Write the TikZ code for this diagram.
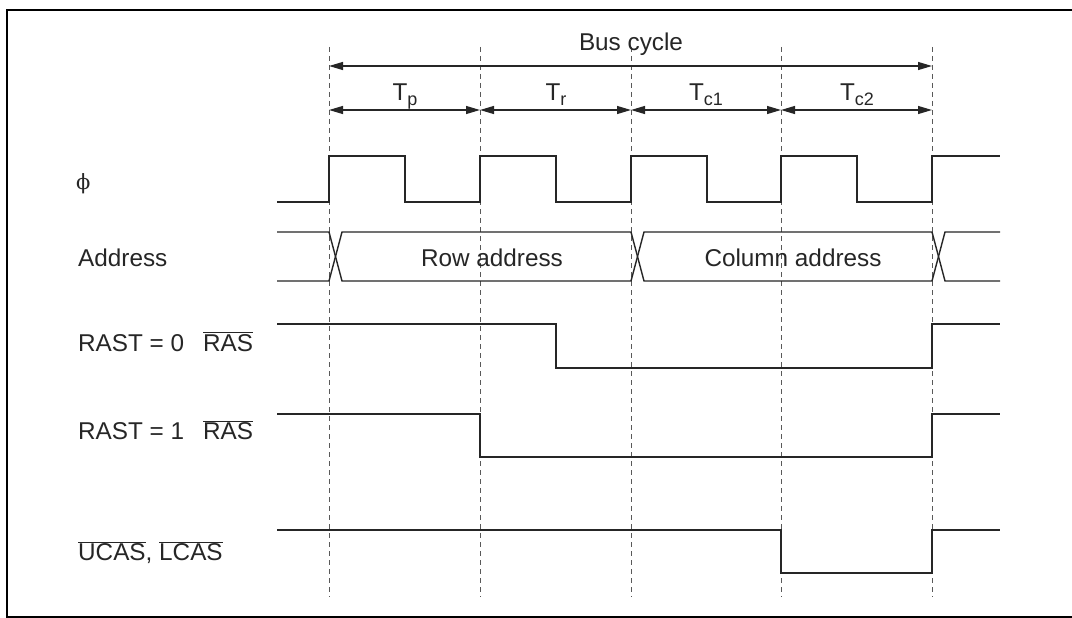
\documentclass[tikz,border=0pt]{standalone}
\usepackage{fontspec}
\setmainfont{Liberation Sans}
\newfontfamily\phifont{DejaVu Serif}
\usetikzlibrary{arrows.meta}
\newcommand{\Tsub}[1]{T\raisebox{-4.5pt}{\fontsize{18}{18}\selectfont #1}}
\begin{document}
\begin{tikzpicture}[x=1pt,y=-1pt,
  sig/.style={line width=1.4pt, draw=black!85, line join=miter},
  gridline/.style={line width=1pt, dash pattern=on 5pt off 4pt, draw=black!65},
  dim/.style={line width=1.2pt, draw=black!85, {Triangle[length=14pt,width=8pt]}-{Triangle[length=14pt,width=8pt]}},
  lbl/.style={font=\fontsize{24.3}{28}\selectfont, anchor=base west, inner sep=0pt, text=black!85},
  ctr/.style={font=\fontsize{24.3}{28}\selectfont, anchor=base, inner sep=0pt, text=black!85}]
\useasboundingbox (0,0) rectangle (1072,618);
\fill[white] (0,0) rectangle (1072,618);
\draw[line width=2.2pt] (7,10) rectangle (1090,617);

% vertical dashed time markers
\foreach \i/\x in {0/329,1/480,2/631,3/781,4/932} {
  \coordinate (t\i) at (\x,47);
  \coordinate (b\i) at (\x,597);
  \coordinate (m\i) at (\x,110);
  \coordinate (c\i) at (\x,66);
  \draw[gridline] (t\i) -- (b\i);
}

% dimension arrows
\draw[dim] (c0) -- (c4);
\node[ctr] (bus) at (631,51) {Bus cycle};
\draw[dim] (m0) -- (m1);
\draw[dim] (m1) -- (m2);
\draw[dim] (m2) -- (m3);
\draw[dim] (m3) -- (m4);
\node[ctr] (tp) at (405,101) {\Tsub{p}};
\node[ctr] (tr) at (556,101) {\Tsub{r}};
\node[ctr] (tc1) at (706,101) {\Tsub{c1}};
\node[ctr] (tc2) at (857,101) {\Tsub{c2}};

% labels
\node[lbl, font=\fontsize{21}{24}\phifont] (lphi) at (76,189.5) {ϕ};
\node[lbl] (laddr) at (78,266.5) {Address};
\node[lbl] (lr0) at (78,351) {RAST = 0};
\node[lbl] (lr0b) at (203,351) {$\overline{\hbox{RAS}}$};
\node[lbl] (lr1) at (78,439.5) {RAST = 1};
\node[lbl] (lr1b) at (203,439.5) {$\overline{\hbox{RAS}}$};
\node[lbl] (lcas) at (78,560.5) {$\overline{\hbox{UCAS}}$, $\overline{\hbox{LCAS}}$};

% phi clock
\draw[sig] (277,202) -- (329,202) -- (329,156) -- (405,156) -- (405,202) -- (480,202) -- (480,156) -- (556,156) -- (556,202)
  -- (631,202) -- (631,156) -- (707,156) -- (707,202) -- (781,202) -- (781,156) -- (857,156) -- (857,202) -- (932,202) -- (932,156) -- (1000,156);

% address bus
\draw[sig] (277,232) -- (329,232) -- (342,281) -- (631,281) -- (644,232) -- (932,232) -- (945,281) -- (1000,281);
\draw[sig] (277,281) -- (329,281) -- (342,232) -- (631,232) -- (644,281) -- (932,281) -- (945,232) -- (1000,232);
\node[ctr] (row) at (492,266.5) {Row address};
\node[ctr] (col) at (793,266.5) {Column address};

% RAS RAST=0
\draw[sig] (277,324) -- (556,324) -- (556,368) -- (932,368) -- (932,324) -- (1000,324);
% RAS RAST=1
\draw[sig] (277,414) -- (480,414) -- (480,457) -- (932,457) -- (932,414) -- (1000,414);
% UCAS/LCAS
\draw[sig] (277,530) -- (781,530) -- (781,573) -- (932,573) -- (932,530) -- (1000,530);
\end{tikzpicture}
\end{document}
